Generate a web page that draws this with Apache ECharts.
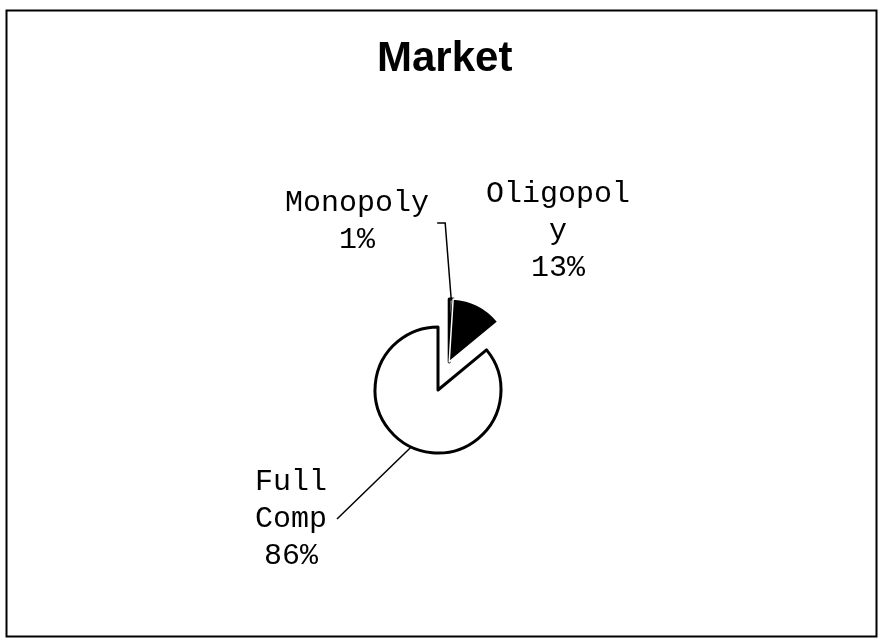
<!DOCTYPE html>
<html>
<head>
<meta charset="utf-8">
<script src="https://cdn.jsdelivr.net/npm/echarts@6/dist/echarts.min.js"></script>
<style>
  html, body { margin: 0; padding: 0; background: #fff; }
  #chart { width: 878px; height: 638px; }
</style>
</head>
<body>
<div id="chart"></div>
<script>
// data
const categories = ['Monopoly', 'Oligopoly', 'Full Comp']
const shares = [1, 13, 86]
const exploded = [true, true, false] // the small slices are pulled out together

// look
const sliceColors = ['#ffffff', '#000000', '#ffffff']
const sliceBorders = ['#000000', '#ffffff', '#000000'] // white rim keeps the sliver apart
const pieCenter = [438, 390]
const pieRadius = 63
const explodeDist = 31
// where each label sits, relative to the pie center
const labelOffsets = [[-81, -168], [120, -159], [-147, 129]]
const monoFont = "'Liberation Mono', 'Courier New', monospace"

const total = shares.reduce((a, b) => a + b, 0)
let groupSum = 0
shares.forEach((v, i) => { if (exploded[i]) groupSum += v })
// group starts at 12 o'clock, clockwise
const midAngle = groupSum / 2 / total * 2 * Math.PI
const outCenter = [
  pieCenter[0] + explodeDist * Math.sin(midAngle) - 2,
  pieCenter[1] - explodeDist * Math.cos(midAngle)
]

function buildData(inGroup) {
  return categories.map((name, i) => {
    const item = { name: name, value: shares[i] }
    if (exploded[i] !== inGroup) {
      item.itemStyle = { color: 'rgba(0,0,0,0)', borderWidth: 0 }
      item.label = { show: false }
      item.labelLine = { show: false }
    } else {
      item.itemStyle = { color: sliceColors[i], borderColor: sliceBorders[i] }
      if (i === 1) {
        item.itemStyle.borderWidth = 1.5
        item.labelLine = { show: false }
      }
    }
    return item
  })
}

function labelLayout(p) {
  const off = labelOffsets[p.dataIndex]
  const x = pieCenter[0] + off[0]
  const y = pieCenter[1] + off[1]
  const res = { x: x, y: y, align: 'center', verticalAlign: 'middle' }
  const p0 = p.labelLinePoints && p.labelLinePoints[0]
  if (p0) {
    if (p.dataIndex === 0) {
      const ey = y + 1
      res.labelLinePoints = [p0, [p0[0] - 6, ey], [p0[0] - 14, ey]]
    } else if (p.dataIndex === 2) {
      const ex = x + 46
      res.labelLinePoints = [p0, [(p0[0] + ex) / 2, (p0[1] + y) / 2], [ex, y]]
    }
  }
  return res
}

function pieSeries(center, inGroup) {
  return {
    type: 'pie',
    center: center,
    radius: pieRadius,
    startAngle: 90,
    clockwise: true,
    avoidLabelOverlap: false,
    animation: false,
    silent: true,
    itemStyle: { borderColor: '#000', borderWidth: 3 },
    label: {
      show: true,
      position: 'outside',
      formatter: function (p) {
        return p.name.replace(' ', '\n') + '\n' + Math.round(p.percent) + '%'
      },
      color: '#000',
      fontFamily: monoFont,
      fontSize: 30,
      lineHeight: 37,
      width: 152,
      overflow: 'break',
      align: 'center'
    },
    labelLine: { show: true, lineStyle: { color: '#000', width: 1.5 } },
    labelLayout: labelLayout,
    data: buildData(inGroup)
  }
}

const chart = echarts.init(document.getElementById('chart'))
chart.setOption({
  backgroundColor: '#fff',
  title: {
    text: 'Market',
    left: 372,
    top: 33,
    textStyle: {
      fontFamily: "'Liberation Sans', Arial, sans-serif",
      fontWeight: 'bold',
      fontSize: 42,
      color: '#000'
    }
  },
  graphic: [{
    type: 'rect',
    shape: { x: 6.5, y: 10.5, width: 870, height: 626 },
    style: { fill: 'none', stroke: '#000', lineWidth: 2 },
    silent: true
  }],
  series: [
    pieSeries(pieCenter, false),
    pieSeries(outCenter, true)
  ]
})
</script>
</body>
</html>
